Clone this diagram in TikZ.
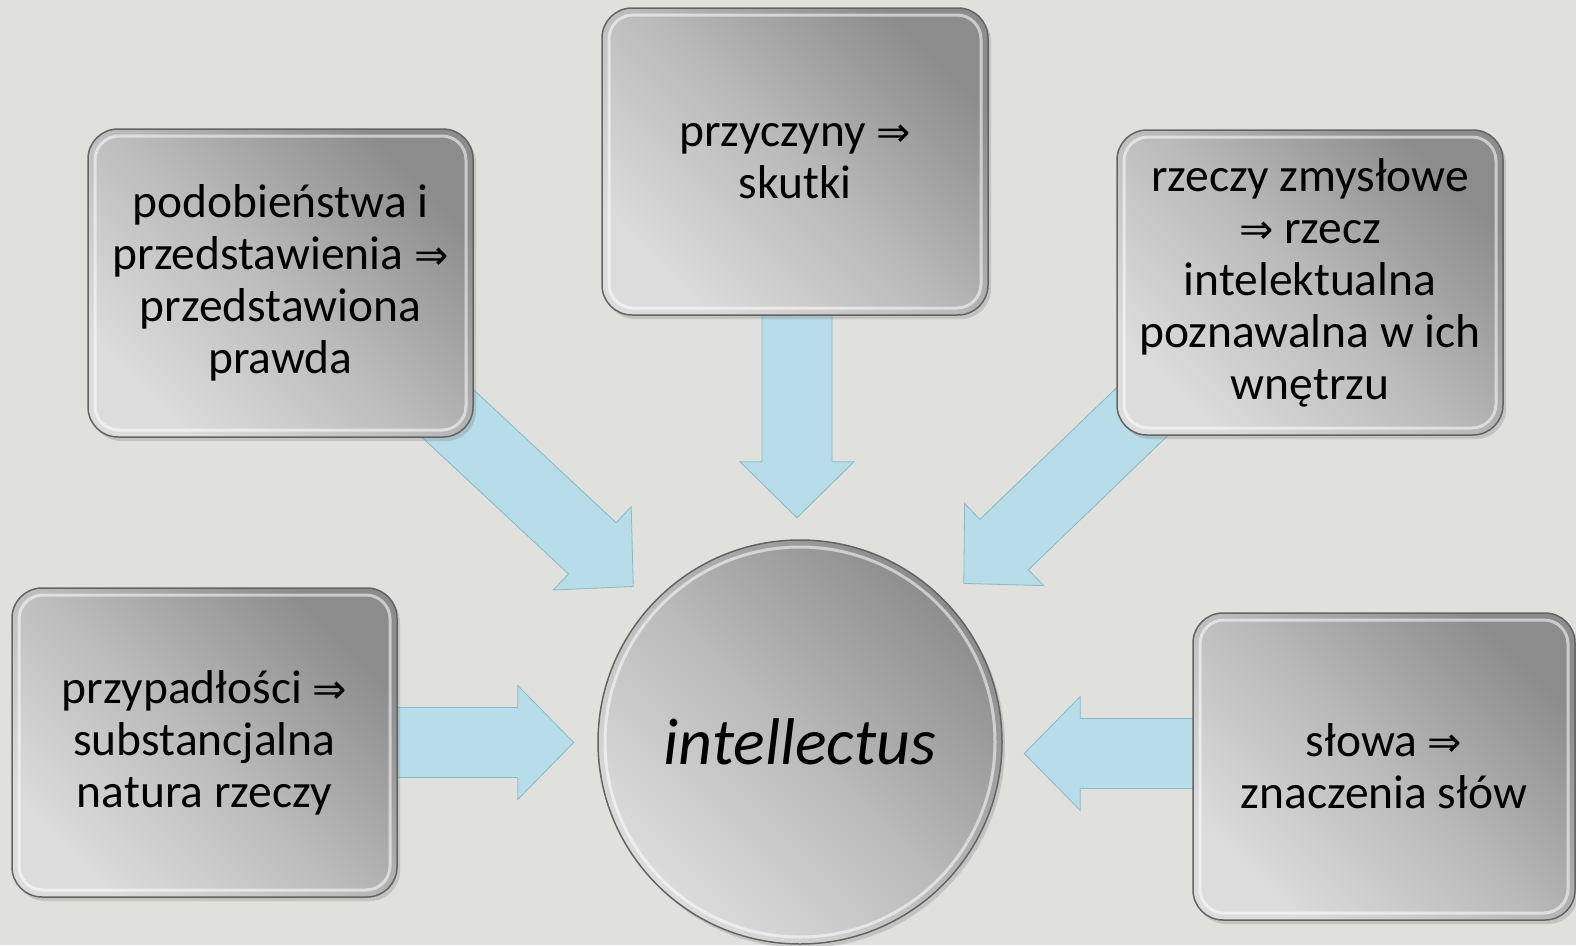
\documentclass[tikz,border=0pt]{standalone}
\usepackage{fontspec}
\setmainfont{Carlito}
\newfontfamily\symfont{DejaVu Sans}
\usetikzlibrary{calc,shadows}
\definecolor{bgc}{RGB}{224,224,221}
\definecolor{boxlight}{RGB}{220,220,220}
\definecolor{boxmid}{RGB}{186,186,186}
\definecolor{boxdark}{RGB}{140,140,140}
\definecolor{boxedge}{RGB}{100,100,100}
\definecolor{arrowblue}{RGB}{183,221,232}
\definecolor{arrowedge}{RGB}{135,185,200}
\newcommand\imp{{\symfont\fontsize{41}{52}\selectfont ⇒}}
\pgfdeclarelayer{back}
\pgfdeclarelayer{arrows}
\pgfsetlayers{back,arrows,main}
\tikzset{
  shinefill/.style={shade, top color=boxdark, bottom color=boxlight, middle color=boxmid, shading angle=-45},
  panel/.style={shinefill, draw=boxedge, line width=1.5pt, rounded corners=30pt,
    drop shadow={shadow xshift=3pt, shadow yshift=-4pt, opacity=.3},
    path picture={\draw[white, opacity=.55, line width=3pt, rounded corners=24pt]
      ([shift={(7pt,7pt)}]path picture bounding box.south west) rectangle
      ([shift={(-7pt,-7pt)}]path picture bounding box.north east);},
    align=center, inner sep=0pt, font=\fontsize{47.5}{52}\selectfont},
  hub/.style={circle, shinefill, draw=boxedge, line width=1.5pt, minimum size=404pt, inner sep=0pt,
    drop shadow={shadow xshift=3pt, shadow yshift=-4pt, opacity=.3},
    path picture={\draw[white, opacity=.55, line width=3pt]
      (path picture bounding box.center) circle[radius=195pt];},
    font=\fontsize{66}{70}\selectfont\itshape},
  arrowstyle/.style={fill=arrowblue, draw=arrowedge, line width=0.8pt, line join=miter}
}
\newcommand\blockarrow[2]{%
  \coordinate (ba-h) at ($(#2)!56pt!(#1)$);
  \filldraw[arrowstyle] ($(#1)!35pt!90:(#2)$) -- ($(ba-h)!35pt!90:(#2)$) -- ($(ba-h)!57pt!90:(#2)$)
    -- (#2) -- ($(ba-h)!57pt!-90:(#2)$) -- ($(ba-h)!35pt!-90:(#2)$) -- ($(#1)!35pt!-90:(#2)$) -- cycle;}
\begin{document}
\begin{tikzpicture}[x=1pt,y=-1pt]
\useasboundingbox (0,0) rectangle (1576,945);
\begin{pgfonlayer}{back}
  \fill[bgc] (0,0) rectangle (1576,945);
\end{pgfonlayer}

\node[panel, minimum width=386pt, minimum height=307pt] (top) at (795,161.5) {przyczyny \imp\\skutki};
\node[panel, minimum width=385pt, minimum height=308pt] (lt) at (280.5,283) {podobieństwa i\\przedstawienia \imp\\przedstawiona\\prawda};
\node[panel, minimum width=386pt, minimum height=305pt] (rt) at (1310,282.5) {rzeczy zmysłowe\\\imp\ rzecz\\intelektualna\\poznawalna w ich\\wnętrzu};
\node[panel, minimum width=385pt, minimum height=309pt] (lb) at (204.5,742.5) {przypadłości \imp\\substancjalna\\natura rzeczy};
\node[panel, minimum width=382pt, minimum height=307pt] (rb) at (1384,766.5) {słowa \imp\\znaczenia słów};
\node[hub] (c) at (800,742) {intellectus};

\coordinate (sTop) at ($(top.south)+(2,-40)$);
\coordinate (tTop) at ($(top.south)+(2,202)$);
\coordinate (sLt) at ($(lt.south east)+(-30,-28)$);
\coordinate (tLt) at ($(c.center)!228pt!(lt.south east)$);
\coordinate (sRt) at ($(rt.south west)+(30,-28)$);
\coordinate (tRt) at ($(c.center)!228pt!(rt.south west)$);
\coordinate (sLb) at ($(lb.east)+(-30,0)$);
\coordinate (tLb) at ($(lb.east)+(176,0)$);
\coordinate (sRb) at ($(rb.west)+(30,-13)$);
\coordinate (tRb) at ($(rb.west)+(-168,-13)$);

\begin{pgfonlayer}{arrows}
  \blockarrow{sTop}{tTop}
  \blockarrow{sLt}{tLt}
  \blockarrow{sRt}{tRt}
  \blockarrow{sLb}{tLb}
  \blockarrow{sRb}{tRb}
\end{pgfonlayer}
\end{tikzpicture}
\end{document}
